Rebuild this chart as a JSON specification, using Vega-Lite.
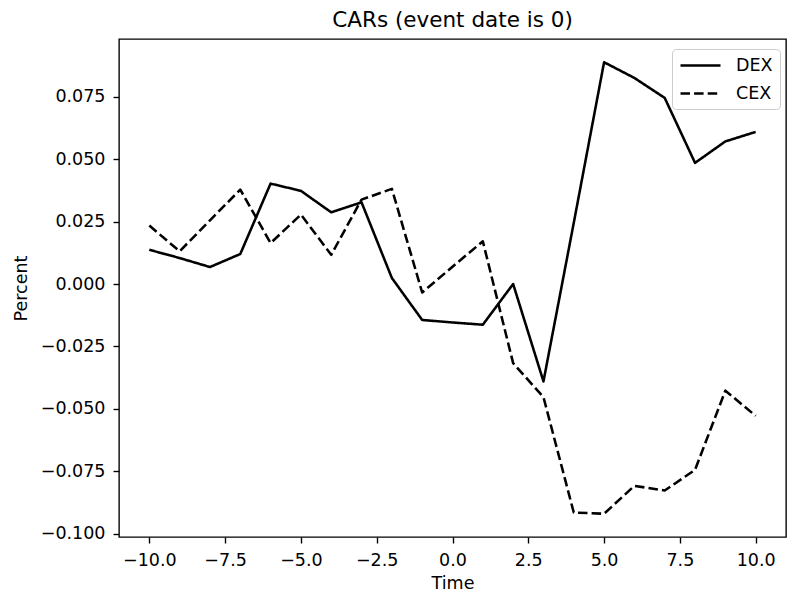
{
  "$schema": "https://vega.github.io/schema/vega-lite/v6.json",
  "width": 667,
  "height": 498,
  "autosize": {"type": "none"},
  "padding": {"left": 119, "top": 39, "right": 2, "bottom": 61},
  "background": "white",
  "config": {
    "font": "DejaVu Sans",
    "view": {"stroke": "black", "strokeWidth": 1.37},
    "axis": {
      "domain": false,
      "grid": false,
      "ticks": true,
      "tickSize": 6,
      "tickWidth": 1.37,
      "tickColor": "black",
      "labelFont": "DejaVu Sans",
      "labelFontSize": 17.5,
      "labelColor": "black",
      "titleFont": "DejaVu Sans",
      "titleFontSize": 17.5,
      "titleFontWeight": "normal",
      "titleColor": "black"
    }
  },
  "title": {
    "text": "CARs (event date is 0)",
    "font": "DejaVu Sans",
    "fontSize": 21.5,
    "fontWeight": "normal",
    "color": "black",
    "offset": 8
  },
  "data": {
    "values": [
      {"t": -10, "v": 0.0137, "s": "DEX"},
      {"t": -9, "v": 0.0104, "s": "DEX"},
      {"t": -8, "v": 0.0068, "s": "DEX"},
      {"t": -7, "v": 0.0120, "s": "DEX"},
      {"t": -6, "v": 0.0402, "s": "DEX"},
      {"t": -5, "v": 0.0373, "s": "DEX"},
      {"t": -4, "v": 0.0287, "s": "DEX"},
      {"t": -3, "v": 0.0327, "s": "DEX"},
      {"t": -2, "v": 0.0024, "s": "DEX"},
      {"t": -1, "v": -0.0144, "s": "DEX"},
      {"t": 0, "v": -0.0154, "s": "DEX"},
      {"t": 1, "v": -0.0163, "s": "DEX"},
      {"t": 2, "v": 0.0000, "s": "DEX"},
      {"t": 3, "v": -0.0390, "s": "DEX"},
      {"t": 4, "v": 0.0245, "s": "DEX"},
      {"t": 5, "v": 0.0888, "s": "DEX"},
      {"t": 6, "v": 0.0825, "s": "DEX"},
      {"t": 7, "v": 0.0745, "s": "DEX"},
      {"t": 8, "v": 0.0485, "s": "DEX"},
      {"t": 9, "v": 0.0571, "s": "DEX"},
      {"t": 10, "v": 0.0609, "s": "DEX"},
      {"t": -10, "v": 0.0234, "s": "CEX"},
      {"t": -9, "v": 0.0131, "s": "CEX"},
      {"t": -8, "v": 0.0255, "s": "CEX"},
      {"t": -7, "v": 0.0378, "s": "CEX"},
      {"t": -6, "v": 0.0164, "s": "CEX"},
      {"t": -5, "v": 0.0278, "s": "CEX"},
      {"t": -4, "v": 0.0117, "s": "CEX"},
      {"t": -3, "v": 0.0338, "s": "CEX"},
      {"t": -2, "v": 0.0381, "s": "CEX"},
      {"t": -1, "v": -0.0034, "s": "CEX"},
      {"t": 0, "v": 0.0069, "s": "CEX"},
      {"t": 1, "v": 0.0171, "s": "CEX"},
      {"t": 2, "v": -0.0317, "s": "CEX"},
      {"t": 3, "v": -0.0453, "s": "CEX"},
      {"t": 4, "v": -0.0915, "s": "CEX"},
      {"t": 5, "v": -0.0920, "s": "CEX"},
      {"t": 6, "v": -0.0808, "s": "CEX"},
      {"t": 7, "v": -0.0827, "s": "CEX"},
      {"t": 8, "v": -0.0744, "s": "CEX"},
      {"t": 9, "v": -0.0427, "s": "CEX"},
      {"t": 10, "v": -0.0528, "s": "CEX"}
    ]
  },
  "mark": {"type": "line", "color": "black", "strokeWidth": 2.56, "strokeJoin": "round", "clip": true},
  "encoding": {
    "x": {
      "field": "t",
      "type": "quantitative",
      "title": "Time",
      "scale": {"domain": [-11, 11], "nice": false, "zero": false},
      "axis": {
        "values": [-10, -7.5, -5, -2.5, 0, 2.5, 5, 7.5, 10],
        "format": ".1f",
        "labelPadding": 8,
        "titlePadding": 6
      }
    },
    "y": {
      "field": "v",
      "type": "quantitative",
      "title": "Percent",
      "scale": {"domain": [-0.1013, 0.0981], "nice": false, "zero": false},
      "axis": {
        "values": [-0.1, -0.075, -0.05, -0.025, 0, 0.025, 0.05, 0.075],
        "format": ".3f",
        "labelPadding": 8,
        "titlePadding": 10
      }
    },
    "strokeDash": {
      "field": "s",
      "type": "nominal",
      "title": null,
      "scale": {"domain": ["DEX", "CEX"], "range": [[1, 0], [9.5, 4.1]]},
      "legend": {
        "orient": "none",
        "legendX": 553,
        "legendY": 10,
        "symbolType": "M-1,0H4",
        "symbolSize": 256,
        "symbolStrokeWidth": 2.56,
        "symbolStrokeColor": "black",
        "symbolFillColor": "transparent",
        "labelFont": "DejaVu Sans",
        "labelFontSize": 17.5,
        "labelColor": "black",
        "labelOffset": 38,
        "rowPadding": 10,
        "padding": 7,
        "fillColor": "rgba(255,255,255,0.8)",
        "strokeColor": "#cccccc",
        "cornerRadius": 4
      }
    },
    "order": {"field": "t", "type": "quantitative"}
  }
}
